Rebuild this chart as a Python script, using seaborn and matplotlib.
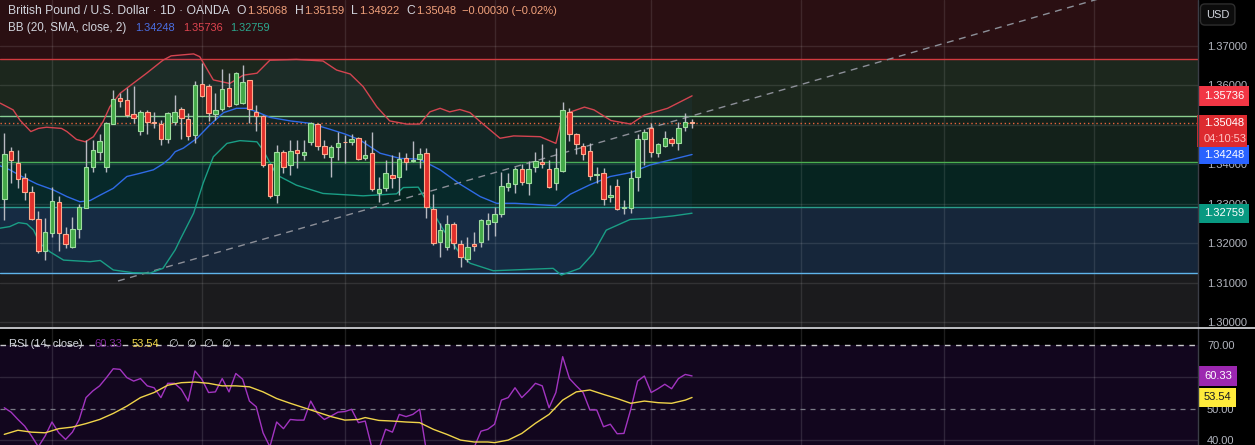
import numpy as np
import pandas as pd
import seaborn as sns
import matplotlib
matplotlib.use("Agg")
import matplotlib.pyplot as plt
from matplotlib.lines import Line2D
from matplotlib.patches import Rectangle
from matplotlib.transforms import blended_transform_factory

# ---------------------------------------------------------
# data (GBP/USD daily, OANDA)
# ---------------------------------------------------------
opens = [1.3311, 1.3434, 1.3404, 1.3364, 1.3329, 1.3260, 1.3181, 1.3225, 1.3304, 1.3223,
         1.3189, 1.3235, 1.3288, 1.3394, 1.3430, 1.3392, 1.3501, 1.3567, 1.3562, 1.3527,
         1.3485, 1.3532, 1.3506, 1.3501, 1.3465, 1.3506, 1.3539, 1.3514, 1.3474, 1.3603,
         1.3599, 1.3528, 1.3540, 1.3593, 1.3554, 1.3556, 1.3613, 1.3533, 1.3523, 1.3400,
         1.3322, 1.3431, 1.3398, 1.3436, 1.3424, 1.3456, 1.3502, 1.3446, 1.3419, 1.3443,
         1.3457, 1.3457, 1.3466, 1.3417, 1.3428, 1.3328, 1.3339, 1.3373, 1.3369, 1.3415,
         1.3408, 1.3414, 1.3428, 1.3286, 1.3203, 1.3191, 1.3249, 1.3197, 1.3161, 1.3199,
         1.3204, 1.3248, 1.3254, 1.3274, 1.3343, 1.3349, 1.3387, 1.3352, 1.3392, 1.3405,
         1.3387, 1.3353, 1.3384, 1.3533, 1.3476, 1.3446, 1.3434, 1.3373, 1.3377, 1.3316,
         1.3346, 1.3288, 1.3288, 1.3367, 1.3465, 1.3493, 1.3428, 1.3446, 1.3463, 1.3453,
         1.3495, 1.35068]
highs = [1.3479, 1.3443, 1.3435, 1.3377, 1.3345, 1.3282, 1.3263, 1.3343, 1.3320, 1.3242,
         1.3267, 1.3299, 1.3462, 1.3462, 1.3477, 1.3508, 1.3588, 1.3580, 1.3593, 1.3599,
         1.3538, 1.3538, 1.3533, 1.3512, 1.3533, 1.3576, 1.3546, 1.3529, 1.3612, 1.3656,
         1.3604, 1.3580, 1.3641, 1.3631, 1.3635, 1.3652, 1.3614, 1.3550, 1.3525, 1.3401,
         1.3449, 1.3436, 1.3462, 1.3462, 1.3462, 1.3508, 1.3504, 1.3462, 1.3449, 1.3483,
         1.3474, 1.3477, 1.3468, 1.3462, 1.3483, 1.3369, 1.3411, 1.3424, 1.3430, 1.3428,
         1.3460, 1.3441, 1.3441, 1.3325, 1.3250, 1.3271, 1.3254, 1.3208, 1.3216, 1.3229,
         1.3260, 1.3276, 1.3292, 1.3381, 1.3379, 1.3394, 1.3401, 1.3409, 1.3430, 1.3451,
         1.3411, 1.3441, 1.3559, 1.3544, 1.3480, 1.3455, 1.3453, 1.3392, 1.3391, 1.3347,
         1.3363, 1.3310, 1.3386, 1.3477, 1.3489, 1.3504, 1.3455, 1.3485, 1.3468, 1.3506,
         1.3529, 1.35159]
lows = [1.3259, 1.3352, 1.3339, 1.3310, 1.3259, 1.3174, 1.3157, 1.3216, 1.3181, 1.3187,
        1.3187, 1.3212, 1.3288, 1.3381, 1.3411, 1.3381, 1.3501, 1.3546, 1.3521, 1.3504,
        1.3474, 1.3477, 1.3491, 1.3449, 1.3453, 1.3500, 1.3463, 1.3462, 1.3455, 1.3570,
        1.3511, 1.3512, 1.3536, 1.3546, 1.3550, 1.3554, 1.3504, 1.3485, 1.3394, 1.3314,
        1.3303, 1.3379, 1.3373, 1.3391, 1.3411, 1.3449, 1.3435, 1.3417, 1.3367, 1.3411,
        1.3403, 1.3449, 1.3411, 1.3411, 1.3331, 1.3305, 1.3331, 1.3339, 1.3322, 1.3386,
        1.3407, 1.3390, 1.3263, 1.3195, 1.3166, 1.3183, 1.3184, 1.3140, 1.3151, 1.3181,
        1.3191, 1.3208, 1.3218, 1.3267, 1.3333, 1.3328, 1.3348, 1.3322, 1.3381, 1.3391,
        1.3339, 1.3335, 1.3381, 1.3460, 1.3426, 1.3411, 1.3359, 1.3353, 1.3298, 1.3305,
        1.3284, 1.3273, 1.3277, 1.3333, 1.3398, 1.3418, 1.3419, 1.3443, 1.3447, 1.3436,
        1.3485, 1.34922]
closes = [1.3425, 1.3411, 1.3362, 1.3329, 1.3260, 1.3181, 1.3227, 1.3306, 1.3225, 1.3197,
          1.3235, 1.3292, 1.3392, 1.3435, 1.3458, 1.3504, 1.3565, 1.3560, 1.3525, 1.3517,
          1.3532, 1.3506, 1.3504, 1.3464, 1.3529, 1.3532, 1.3517, 1.3473, 1.3600, 1.3572,
          1.3529, 1.3537, 1.3590, 1.3548, 1.3631, 1.3608, 1.3539, 1.3523, 1.3398, 1.3320,
          1.3430, 1.3392, 1.3434, 1.3428, 1.3430, 1.3504, 1.3446, 1.3425, 1.3443, 1.3453,
          1.3456, 1.3464, 1.3414, 1.3424, 1.3337, 1.3337, 1.3377, 1.3366, 1.3414, 1.3405,
          1.3411, 1.3425, 1.3291, 1.3201, 1.3233, 1.3249, 1.3201, 1.3166, 1.3189, 1.3194,
          1.3258, 1.3259, 1.3274, 1.3345, 1.3352, 1.3388, 1.3356, 1.3387, 1.3408, 1.3400,
          1.3343, 1.3390, 1.3538, 1.3476, 1.3451, 1.3427, 1.3371, 1.3375, 1.3311, 1.3322,
          1.3286, 1.3291, 1.3364, 1.3464, 1.3481, 1.3430, 1.3451, 1.3466, 1.3453, 1.3491,
          1.3507, 1.35048]

# Bollinger bands (20, SMA, 2) sampled along the curves
bb_upper_x = [-0.6, 1.3, 2.3, 3.9, 5.0, 6.2, 8.4, 9.2, 10.6, 11.9, 13.1, 14.5, 15.5, 17.0,
              18.9, 20.9, 23.3, 24.5, 27.8, 28.7, 30.7, 33.1, 35.1, 37.1, 39.0, 42.9, 46.8,
              48.8, 50.8, 52.7, 54.7, 56.6, 59.1, 61.0, 62.5, 64.0, 65.4, 66.9, 68.4, 69.9,
              72.8, 74.8, 78.7, 81.0, 81.7, 83.2, 85.2, 86.6, 89.1, 92.0, 94.0, 97.4, 101.0]
bb_upper = [1.3555, 1.3538, 1.3512, 1.3483, 1.3491, 1.3494, 1.3491, 1.3483, 1.3463, 1.3457,
            1.3470, 1.3508, 1.3546, 1.3580, 1.3605, 1.3631, 1.3664, 1.3675, 1.3680, 1.3673,
            1.3614, 1.3605, 1.3626, 1.3631, 1.3664, 1.3666, 1.3662, 1.3639, 1.3629, 1.3597,
            1.3546, 1.3510, 1.3502, 1.3502, 1.3533, 1.3542, 1.3533, 1.3539, 1.3531, 1.3508,
            1.3466, 1.3472, 1.3470, 1.3453, 1.3504, 1.3533, 1.3545, 1.3538, 1.3511, 1.3502,
            1.3525, 1.3542, 1.35736]
bb_basis_x = [-0.6, 0.8, 2.8, 4.8, 7.2, 9.2, 11.1, 12.6, 14.1, 16.0, 18.0, 19.9, 21.9, 23.3,
              24.3, 25.1, 26.3, 28.3, 30.2, 32.2, 34.1, 35.6, 37.1, 39.0, 42.0, 44.9, 47.8,
              50.0, 52.2, 55.2, 58.1, 61.0, 64.0, 66.9, 69.9, 72.3, 75.0, 81.0, 83.1, 86.0,
              89.0, 92.0, 94.8, 97.8, 101.0]
bb_basis = [1.3396, 1.3386, 1.3367, 1.3350, 1.3335, 1.3318, 1.3305, 1.3308, 1.3322, 1.3339,
            1.3369, 1.3377, 1.3386, 1.3401, 1.3415, 1.3432, 1.3441, 1.3466, 1.3500, 1.3531,
            1.3542, 1.3542, 1.3533, 1.3519, 1.3510, 1.3504, 1.3489, 1.3477, 1.3462, 1.3428,
            1.3415, 1.3413, 1.3386, 1.3350, 1.3318, 1.3301, 1.3301, 1.3295, 1.3324, 1.3348,
            1.3369, 1.3379, 1.3398, 1.3411, 1.34248]
bb_lower_x = [-0.6, 0.8, 2.1, 3.3, 4.3, 5.2, 6.7, 8.7, 10.6, 12.6, 14.1, 16.0, 18.9, 21.4,
              23.3, 25.1, 25.8, 27.8, 29.2, 30.7, 32.7, 34.6, 37.1, 38.0, 40.0, 42.9, 46.8,
              52.7, 57.6, 58.6, 60.8, 62.5, 64.5, 66.9, 68.4, 71.8, 80.6, 81.8, 84.5, 86.5,
              88.4, 91.9, 94.8, 98.2, 101.0]
bb_lower = [1.3238, 1.3242, 1.3252, 1.3249, 1.3233, 1.3200, 1.3178, 1.3157, 1.3155, 1.3153,
            1.3156, 1.3132, 1.3125, 1.3124, 1.3136, 1.3183, 1.3208, 1.3276, 1.3352, 1.3419,
            1.3453, 1.3460, 1.3457, 1.3436, 1.3373, 1.3347, 1.3326, 1.3320, 1.3325, 1.3341,
            1.3342, 1.3292, 1.3233, 1.3174, 1.3149, 1.3130, 1.3136, 1.3119, 1.3136, 1.3174,
            1.3233, 1.3260, 1.3263, 1.3269, 1.32759]

# RSI (14) per candle and its moving average
rsi = [50.3, 48.9, 46.6, 44.5, 41.4, 38.0, 41.4, 45.8, 42.4, 40.3, 42.6, 46.6, 53.5, 55.6,
       57.2, 59.8, 62.6, 62.4, 59.8, 58.7, 59.5, 57.2, 56.6, 53.5, 58.0, 58.0, 56.1, 52.4,
       61.9, 59.3, 55.1, 55.3, 59.5, 55.3, 61.1, 59.3, 52.4, 50.6, 42.4, 38.0, 45.8, 43.7,
       46.6, 46.4, 46.4, 52.4, 48.5, 46.6, 47.7, 48.9, 49.1, 49.8, 45.6, 46.1, 37.5, 37.2,
       43.5, 42.6, 48.2, 47.5, 48.2, 49.8, 36.5, 31.5, 33.0, 34.5, 33.5, 30.5, 32.0, 37.8,
       42.9, 43.5, 45.1, 52.7, 53.5, 56.6, 53.5, 55.6, 58.0, 57.2, 50.3, 55.1, 66.4, 59.5,
       57.2, 55.1, 49.6, 49.6, 44.3, 45.1, 42.1, 42.2, 49.8, 58.7, 60.3, 55.1, 56.3, 57.7,
       56.3, 59.5, 60.8, 60.33]
rsi_ma_x = [0, 2, 4, 6, 8, 10, 12, 14, 16, 18, 20, 22, 24, 26, 28, 30, 32, 34, 36, 38, 40,
            42, 44, 46, 48, 50, 52, 53, 55, 57, 59, 61, 63, 65, 67, 69, 71, 72, 74, 76, 78,
            80, 82, 84, 86, 88, 90, 92, 94, 96, 98, 100, 101]
rsi_ma = [41.9, 43.2, 42.6, 42.4, 43.7, 44.2, 45.3, 46.6, 48.5, 50.8, 53.5, 55.1, 57.4, 58.2,
          58.4, 58.0, 57.2, 57.2, 56.9, 55.3, 53.2, 51.7, 50.3, 48.9, 47.5, 46.4, 46.6, 47.2,
          46.3, 46.1, 45.8, 45.6, 43.5, 41.9, 40.1, 39.5, 39.5, 39.3, 40.1, 42.2, 45.4, 48.2,
          52.7, 55.3, 55.9, 54.5, 53.2, 51.7, 52.4, 51.9, 51.7, 52.7, 53.54]

# drawn levels / zones and the trend line
zone_levels = [1.3124, 1.3292, 1.3406, 1.3522, 1.3667]
trend_x = [16.7, 175.3]
trend_y = [1.3104, 1.3892]
last_price = 1.35048
countdown = "04:10:53"
price_ticks = [1.30, 1.31, 1.32, 1.33, 1.34, 1.35, 1.36, 1.37]
rsi_ticks = [40, 50, 60, 70]
month_lines = [7, 29, 50, 72, 95, 117, 138, 160]

# ---------------------------------------------------------
# style
# ---------------------------------------------------------
sns.set_theme(style="dark", rc={"axes.facecolor": "black", "figure.facecolor": "black"})
plt.rcParams["font.family"] = ["Liberation Sans", "DejaVu Sans"]

W, H = 1255, 445
AX_R = 1198 / W
FG = "#d1d4dc"
AXIS_TXT = "#b2b5be"
AX_FS = 8.0

fig = plt.figure(figsize=(W / 100, H / 100), dpi=100, facecolor="black")
ax = fig.add_axes([0, 1 - 327 / H, AX_R, 327 / H])
ax_r = fig.add_axes([0, 0, AX_R, 117.5 / H])

# ---------------------------------------------------------
# main price panel
# ---------------------------------------------------------
zone_cols = ["#1b1b1d", "#16263a", "#062420", "#13211a", "#1c271d", "#2a0f12"]
edges = [1.2, *zone_levels, 1.5]
for lo, hi, c in zip(edges[:-1], edges[1:], zone_cols):
    ax.axhspan(lo, hi, color=c, lw=0, zorder=0)

for p in price_ticks:
    ax.axhline(p, color="white", alpha=0.1, lw=1, zorder=0.5)
for m in month_lines:
    ax.axvline(m, color="white", alpha=0.1, lw=1, zorder=0.5)

level_cols = ["#5fb4ea", "#2a9d8a", "#4caf50", "#8ccf8f", "#d23a3f"]
for lv, c in zip(zone_levels, level_cols):
    ax.axhline(lv, color=c, lw=1, zorder=1)

# BB background
poly_x = np.r_[bb_upper_x, bb_lower_x[::-1]]
poly_y = np.r_[bb_upper, bb_lower[::-1]]
ax.fill(poly_x, poly_y, color="#2196f3", alpha=0.05, lw=0, zorder=1)

ax.plot(trend_x, trend_y, color="#8c8f98", lw=1, ls=(0, (5, 4)), zorder=2)
ax.axhline(last_price, color="#e8643c", lw=1, ls=(0, (1, 2)), zorder=2)

sns.lineplot(x=bb_upper_x, y=bb_upper, ax=ax, color="#d44450", lw=1, sort=False, zorder=5)
sns.lineplot(x=bb_basis_x, y=bb_basis, ax=ax, color="#2f6be6", lw=1, sort=False, zorder=5)
sns.lineplot(x=bb_lower_x, y=bb_lower, ax=ax, color="#1a9e85", lw=1, sort=False, zorder=5)

df = pd.DataFrame({"open": opens, "high": highs, "low": lows, "close": closes})
df["idx"] = np.arange(len(df))
up = df["close"] >= df["open"]
body_bot = df[["open", "close"]].min(axis=1)
body_h = (df["close"] - df["open"]).abs().clip(lower=0.00006)

ax.vlines(df["idx"], df["low"], df["high"], color="#b8bac2", lw=1, zorder=6)
ax.bar(df["idx"][up], body_h[up], bottom=body_bot[up], width=0.66,
       color="#43a848", edgecolor="#9edc9f", lw=0.8, zorder=7)
ax.bar(df["idx"][~up], body_h[~up], bottom=body_bot[~up], width=0.66,
       color="#e0302c", edgecolor="#ffaa8c", lw=0.8, zorder=7)

ax.set_xlim(-0.63, 175.3)
ax.set_ylim(1.29873, 1.38167)
ax.set_xticks([])
ax.yaxis.tick_right()
ax.set_yticks(price_ticks)
# the 1.35000 label sits fully under the last-price badge
ax.set_yticklabels(["" if abs(p - 1.35) < 1e-9 else f"{p:.5f}" for p in price_ticks])
ax.tick_params(axis="y", length=0, pad=6.5, labelsize=AX_FS, labelcolor=AXIS_TXT)
ax.set_xlabel("")
ax.set_ylabel("")
for s in ax.spines.values():
    s.set_visible(False)

# ---------------------------------------------------------
# RSI panel
# ---------------------------------------------------------
ax_r.set_facecolor("black")
ax_r.axhspan(30, 70, color="#12061e", lw=0, zorder=0)
for g in [40, 60]:
    ax_r.axhline(g, color="white", alpha=0.12, lw=1, zorder=0.5)
for m in month_lines:
    ax_r.axvline(m, color="white", alpha=0.12, lw=1, zorder=0.5)
ax_r.axhline(70, color="#c9c9cc", lw=1, ls=(0, (4, 4)), zorder=1)
ax_r.axhline(50, color="#7a7b86", lw=0.9, ls=(0, (4, 4)), zorder=1)

sns.lineplot(x=np.arange(len(rsi)), y=rsi, ax=ax_r, color="#a234c0", lw=1, sort=False, zorder=3)
sns.lineplot(x=rsi_ma_x, y=rsi_ma, ax=ax_r, color="#f0d44a", lw=1, sort=False, zorder=4)

ax_r.set_xlim(-0.63, 175.3)
ax_r.set_ylim(38.55, 75.6)
ax_r.set_xticks([])
ax_r.yaxis.tick_right()
ax_r.set_yticks(rsi_ticks)
ax_r.set_yticklabels(["" if v == 60 else f"{v:.2f}" for v in rsi_ticks])
ax_r.tick_params(axis="y", length=0, pad=6.5, labelsize=AX_FS, labelcolor=AXIS_TXT)
ax_r.set_xlabel("")
ax_r.set_ylabel("")
for s in ax_r.spines.values():
    s.set_visible(False)

# ---------------------------------------------------------
# price-scale badges
# ---------------------------------------------------------
def badge(axis, y, txt, fc, tc="white"):
    axis.annotate(txt, xy=(1, y), xycoords=("axes fraction", "data"),
                  xytext=(6, 0), textcoords="offset pixels", ha="left", va="center",
                  fontsize=AX_FS, color=tc, zorder=10, annotation_clip=False,
                  bbox=dict(boxstyle="square,pad=0.42", fc=fc, ec="none"))

badge(ax, 1.35736, "1.35736", "#f23645")
badge(ax, 1.34248, "1.34248", "#2962ff")
badge(ax, 1.32759, "1.32759", "#089981")
badge(ax_r, 60.33, "60.33", "#9c27b0")
badge(ax_r, 53.54, "53.54", "#ffeb3b", tc="#131722")

# last price badge with the bar countdown underneath
fy = blended_transform_factory(fig.transFigure, ax.transData)
ax.add_patch(Rectangle((1197 / W, 1.3444), 50 / W, 0.0081, transform=fy,
                       fc="#dd2a2f", ec="none", clip_on=False, zorder=10))
ax.text(1204 / W, last_price, f"{last_price:.5f}", transform=fy, color="white",
        fontsize=AX_FS, ha="left", va="center", zorder=11)
ax.text(1204 / W, last_price - 0.0040, countdown, transform=fy, color="#ffc4c4",
        fontsize=AX_FS, ha="left", va="center", zorder=11)

fig.text(1206 / W, 1 - 14.5 / H, "USD", color=FG, fontsize=8, ha="left", va="center",
         bbox=dict(boxstyle="round,pad=0.5,rounding_size=0.4", fc="#0c0c0c", ec="#2e2e2e"))

fig.add_artist(Line2D([AX_R, AX_R], [0, 1], color="#3a3d46", lw=1))
fig.add_artist(Line2D([0, 1], [1 - 327.5 / H] * 2, color="#cfd0d4", lw=1.3))

# ---------------------------------------------------------
# legend rows (header texts)
# ---------------------------------------------------------
renderer = fig.canvas.get_renderer()

def write_row(x_px, y_px, parts):
    x = x_px
    for txt, col, gap, size in parts:
        t = fig.text(x / W, 1 - y_px / H, txt, color=col, fontsize=size, ha="left", va="center")
        x += t.get_window_extent(renderer).width + gap

VAL = "#f2a27c"
write_row(8, 11, [("British Pound / U.S. Dollar · 1D · OANDA", FG, 7, 8.7),
                  ("O", FG, 1, 8.7), ("1.35068", VAL, 7, 8.0),
                  ("H", FG, 1, 8.7), ("1.35159", VAL, 7, 8.0),
                  ("L", FG, 1, 8.7), ("1.34922", VAL, 7, 8.0),
                  ("C", FG, 1, 8.7), ("1.35048", VAL, 6, 8.0),
                  ("−0.00030 (−0.02%)", VAL, 0, 8.0)])
write_row(8, 28, [("BB (20, SMA, close, 2)", FG, 9, 8.4),
                  ("1.34248", "#4a6fe3", 8, 7.9), ("1.35736", "#e04550", 8, 7.9),
                  ("1.32759", "#2aa88f", 0, 7.9)])
write_row(9, 344, [("RSI (14, close)", FG, 12, 8.0), ("60.33", "#7e2a9a", 9, 8.0),
                   ("53.54", "#f2d64b", 9, 8.0), ("∅", FG, 8, 8.0), ("∅", FG, 8, 8.0),
                   ("∅", FG, 8, 8.0), ("∅", FG, 0, 8.0)])

fig.savefig("out.png", dpi=100, facecolor="black")
